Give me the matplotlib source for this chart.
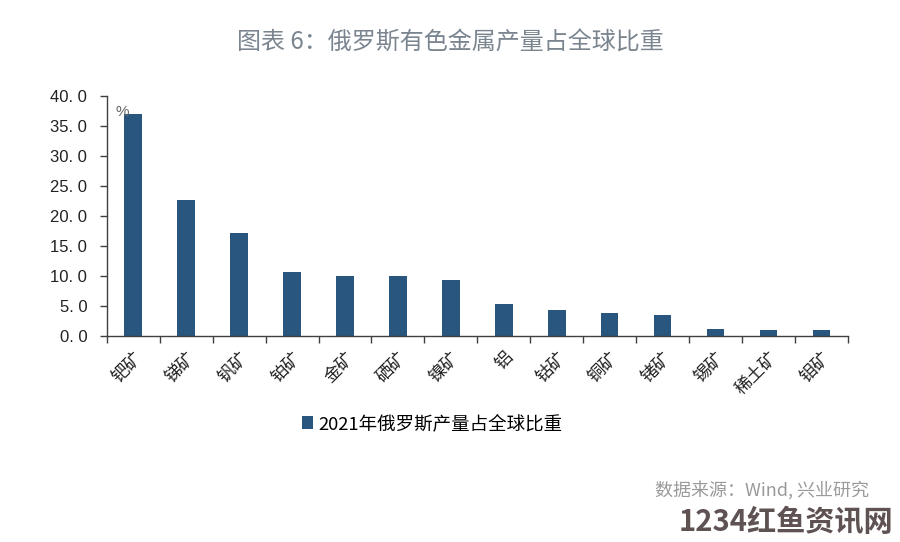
import matplotlib
matplotlib.use("Agg")
import matplotlib.pyplot as plt
from matplotlib.patches import Patch
import numpy as np

plt.rcParams['font.family'] = ['Noto Sans CJK SC', 'DejaVu Sans']

categories = ["钯矿", "锑矿", "钒矿", "铂矿", "金矿", "硒矿", "镍矿", "铝", "钴矿", "铜矿", "锗矿", "锡矿", "稀土矿", "钼矿"]
values = [37.0, 22.7, 17.2, 10.6, 10.0, 10.0, 9.3, 5.4, 4.4, 3.9, 3.55, 1.1, 0.95, 0.95]
series_name = "2021年俄罗斯产量占全球比重"
y_ticks = [0, 5, 10, 15, 20, 25, 30, 35, 40]
title = "图表 6：俄罗斯有色金属产量占全球比重"
source = "数据来源：Wind, 兴业研究"
watermark = "1234红鱼资讯网"

bar_color = "#28567f"

fig = plt.figure(figsize=(9, 5.42), dpi=100)
ax = fig.add_axes([0.1186, 0.380, 0.8236, 0.443])

x = np.arange(len(categories))
ax.bar(x, values, width=0.33, color=bar_color, zorder=2)

ax.set_xlim(-0.5, len(categories) - 0.5)
ax.set_ylim(0, 40)
ax.set_yticks(y_ticks)
ax.set_yticklabels([f"{v:.1f}".replace(".", ". ") for v in y_ticks],
                   family=['Liberation Sans', 'DejaVu Sans'], fontsize=12, color="#222222")

ax.set_xticks(x)
ax.set_xticklabels(categories, rotation=45, ha='right', va='top',
                   rotation_mode='anchor', fontsize=12.5, color="#222222")
ax.tick_params(axis='x', which='major', length=0, pad=9)
ax.set_xticks(np.arange(-0.5, len(categories), 1), minor=True)
ax.tick_params(axis='x', which='minor', length=5, width=1, color="#404040", direction='out')
ax.tick_params(axis='y', length=5, width=1, color="#404040", direction='out', pad=9)

for s in ['top', 'right']:
    ax.spines[s].set_visible(False)
for s in ['left', 'bottom']:
    ax.spines[s].set_color("#404040")
    ax.spines[s].set_linewidth(1)

ax.text(0.012, 0.935, "%", transform=ax.transAxes, fontsize=11, color="#666666",
        family=['Liberation Sans', 'DejaVu Sans'], ha='left', va='center')

fig.text(0.5, 0.922, title, ha='center', va='center', fontsize=17.3, color="#7b8590")

handle = Patch(facecolor=bar_color, edgecolor='none')
fig.legend([handle], [series_name], loc='center', bbox_to_anchor=(0.48, 0.218),
           frameon=False, fontsize=13.3, handlelength=0.6, handleheight=0.75,
           handletextpad=0.3)

fig.text(0.966, 0.096, source, ha='right', va='center', fontsize=13, color="#9a9a9a")
fig.text(0.992, 0.038, watermark, ha='right', va='center', fontsize=21,
         fontweight='heavy', color="#5e5253")

fig.savefig("out.png", dpi=100, facecolor='white')
